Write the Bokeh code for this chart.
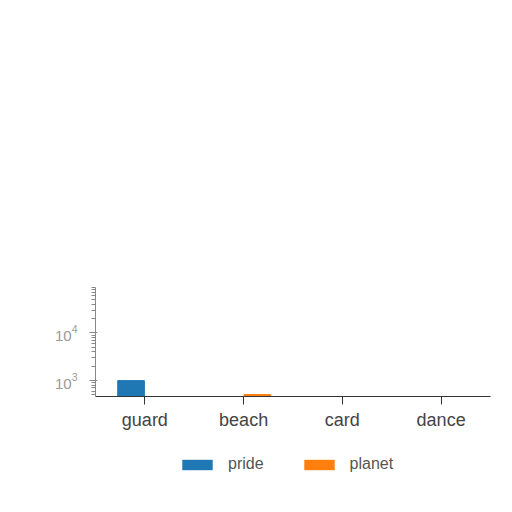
from bokeh.plotting import figure
from bokeh.layouts import column
from bokeh.models import ColumnDataSource, Range1d, FactorRange, Legend, LegendItem
from bokeh.transform import dodge
from bokeh.embed import file_html
from bokeh.resources import INLINE

categories = ["guard", "beach", "card", "dance"]
series_names = ["pride", "planet"]
pride = [1000, 300, 320, 300]
planet = [350, 510, 330, 310]
colors = ["#1f77b4", "#ff7f0e"]

src = ColumnDataSource(dict(cat=categories, pride=pride, planet=planet,
                            base=[1, 1, 1, 1]))

p = figure(x_range=FactorRange(*categories), y_axis_type="log",
           y_range=Range1d(464, 90000),
           frame_width=395, frame_height=109,
           output_backend="svg", toolbar_location=None,
           min_border_left=95, min_border_right=6, min_border_top=287,
           min_border_bottom=45)

p.vbar(x=dodge("cat", -0.14, range=p.x_range), top="pride", bottom="base",
       width=0.27, source=src, color=colors[0])
p.vbar(x=dodge("cat", 0.14, range=p.x_range), top="planet", bottom="base",
       width=0.27, source=src, color=colors[1])

p.outline_line_color = None
p.xgrid.grid_line_color = None
p.ygrid.grid_line_color = None
p.x_range.range_padding = 0.0

p.xaxis.axis_line_color = "#333333"
p.xaxis.major_tick_line_color = "#333333"
p.xaxis.major_tick_out = 8
p.xaxis.major_tick_in = 0
p.xaxis.major_label_text_font_size = "18px"
p.xaxis.major_label_text_color = "#444444"
p.xaxis.major_label_text_font = "Liberation Sans"

p.yaxis.axis_line_color = "#888888"
p.yaxis.major_label_text_color = "#999999"
p.yaxis.major_label_text_font_size = "15px"
p.yaxis.major_label_text_font = "Liberation Sans"
p.yaxis.major_label_standoff = 12
p.yaxis.major_tick_line_color = "#888888"
p.yaxis.minor_tick_line_color = "#888888"

# legend strip below the chart (its frame is aligned with the chart's frame)
q = figure(width=496, height=44, output_backend="svg", toolbar_location=None,
           min_border=0, x_range=Range1d(0, 1), y_range=Range1d(0, 1))
q.axis.visible = False
q.grid.grid_line_color = None
q.outline_line_color = None
lr = [q.vbar(x=[0.5], top=[0], bottom=[0], width=0.1, fill_color=c,
             line_color=c, line_alpha=0) for c in colors]
legend = Legend(items=[LegendItem(label=n, renderers=[r]) for n, r in zip(series_names, lr)],
                orientation="horizontal", location=(83, 12),
                border_line_color=None, background_fill_alpha=0,
                label_text_font_size="16px", label_text_color="#555555",
                label_text_font="Liberation Sans",
                glyph_width=38, glyph_height=13, spacing=36, label_standoff=12,
                margin=0, padding=0)
q.add_layout(legend, "center")

open("out.html", "w").write(file_html(column(p, q, spacing=0), INLINE))
